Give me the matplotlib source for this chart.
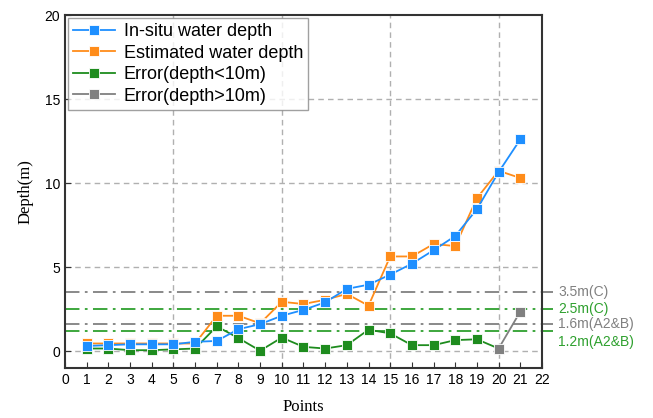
import matplotlib
matplotlib.use("Agg")
import matplotlib.pyplot as plt

# datos
puntos = list(range(1, 22))
in_situ = [0.3, 0.35, 0.4, 0.4, 0.4, 0.55, 0.6, 1.3, 1.6, 2.1, 2.45, 2.9, 3.7,
           3.95, 4.55, 5.2, 6.0, 6.85, 8.45, 10.65, 12.6]
estimada = [0.45, 0.45, 0.45, 0.45, 0.45, 0.45, 2.1, 2.1, 1.65, 2.93, 2.8, 3.05,
            3.4, 2.7, 5.63, 5.63, 6.37, 6.25, 9.1, 10.73, 10.3]
error_bajo = [0.15, 0.15, 0.05, 0.05, 0.1, 0.15, 1.47, 0.77, 0.02, 0.8, 0.25,
              0.15, 0.35, 1.27, 1.05, 0.35, 0.35, 0.65, 0.7]
puntos_alto = [20, 21]
error_alto = [0.15, 2.35]

umbrales = [3.5, 2.5, 1.6, 1.2]
etiquetas_umbral = ["3.5m(C)", "2.5m(C)", "1.6m(A2&B)", "1.2m(A2&B)"]
pos_etiqueta = [3.5, 2.5, 1.6, 0.55]

azul = "#1E8FFF"
naranja = "#FF8C1A"
verde = "#1E8C1E"
verde_claro = "#2EA02E"
gris = "#808080"

fig = plt.figure(figsize=(6.53, 4.18), dpi=100)
ax = fig.add_axes([0.0995, 0.12, 0.7305, 0.844])

# cuadricula
for yy in [0, 5, 10, 15]:
    ax.axhline(yy, color="#b0b0b0", lw=1.0, ls=(0, (4, 3)), zorder=0)
for xx in [5, 10, 15, 20]:
    ax.axvline(xx, color="#b0b0b0", lw=1.0, ls=(0, (4, 3)), zorder=0)

# umbrales
colores_umbral = [gris, verde_claro, gris, verde_claro]
for u, c in zip(umbrales, colores_umbral):
    ax.plot([0, 22.5], [u, u], color=c, lw=1.3, ls=(0, (8, 3, 1.5, 3)),
            clip_on=False, zorder=1)
for yl, txt, c in zip(pos_etiqueta, etiquetas_umbral, colores_umbral):
    ax.text(22.75, yl, txt, color=c, fontsize=10, va="center", ha="left",
            family="Liberation Sans")

kw = dict(marker="s", markersize=6.5, markeredgecolor="white",
          markeredgewidth=0.6, lw=1.3)
ax.plot(puntos, in_situ, color=azul, label="In-situ water depth", zorder=4, **kw)
ax.plot(puntos, estimada, color=naranja, label="Estimated water depth", zorder=3, **kw)
ax.plot(puntos[:19] + [20], error_bajo + [error_alto[0]], color=verde, lw=1.3, zorder=3)
ax.plot(puntos[:19], error_bajo, color=verde, label="Error(depth<10m)", zorder=3,
        **dict(kw, lw=0))
ax.plot(puntos_alto, error_alto, color=gris, label="Error(depth>10m)", zorder=3, **kw)

ax.set_xlim(0, 22)
ax.set_ylim(-1, 20)
ax.set_xticks(range(0, 23))
ax.set_yticks([0, 5, 10, 15, 20])
ax.tick_params(direction="in", labelsize=10, length=4, color="#333333")
for lab in ax.get_xticklabels() + ax.get_yticklabels():
    lab.set_family("Liberation Sans")
for s in ax.spines.values():
    s.set_linewidth(1.5)
    s.set_color("#333333")

ax.set_xlabel("Points", family="Liberation Serif", fontsize=12, labelpad=9)
ax.set_ylabel("Depth(m)", family="Liberation Serif", fontsize=12, labelpad=8)

# leyenda con linea continua
h, l = ax.get_legend_handles_labels()
leg = ax.legend(h, l, loc="upper left", fancybox=False,
                edgecolor="#888888", borderaxespad=0.15, labelspacing=0.25,
                handlelength=2.3, handletextpad=0.5, borderpad=0.3,
                prop={"family": "Liberation Sans", "size": 13})
leg.get_frame().set_linewidth(1.0)
for lh in leg.get_lines():
    lh.set_linewidth(1.3)
    lh.set_linestyle("-")

fig.savefig("out.png", dpi=100)
